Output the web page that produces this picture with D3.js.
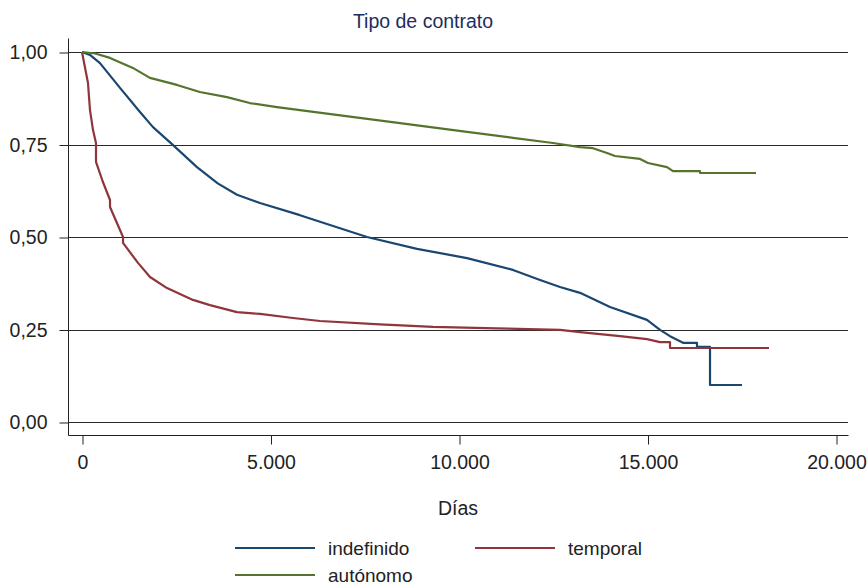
<!DOCTYPE html>
<html>
<head>
<meta charset="utf-8">
<script src="https://cdn.jsdelivr.net/npm/d3@7"></script>
<style>
	body { margin: 0; background: #fff; }
	svg { display: block; font-family: "Liberation Sans", Arial, sans-serif; }
	.axis text { font-size: 19.5px; fill: #222; }
	.axis path, .axis line { stroke: #222; }
</style>
</head>
<body>
<div id="chart"></div>
<script>
// Kaplan-Meier survival estimates: [days, survival]
const indefinido = [
	[0, 1], [212, 0.992], [477, 0.970], [1008, 0.903], [1538, 0.838], [1883, 0.797],
	[2387, 0.751], [3050, 0.689], [3600, 0.645], [4111, 0.614], [4721, 0.592],
	[5782, 0.559], [6313, 0.541], [7560, 0.500], [8886, 0.468], [10212, 0.443],
	[11432, 0.411], [12149, 0.384], [12679, 0.365], [13210, 0.349], [14005, 0.311],
	[14987, 0.276], [15332, 0.249], [15597, 0.232], [15942, 0.214], [16313, 0.214],
	[16313, 0.203], [16658, 0.203], [16658, 0.100], [17507, 0.100]
];
const temporal = [
	[0, 1], [159, 0.916], [212, 0.843], [292, 0.789], [371, 0.754], [371, 0.703],
	[550, 0.650], [743, 0.600], [743, 0.581], [1088, 0.500], [1088, 0.484],
	[1485, 0.430], [1804, 0.392], [2255, 0.362], [2944, 0.330], [3395, 0.316],
	[4111, 0.297], [4721, 0.292], [5597, 0.281], [6313, 0.273], [7900, 0.264],
	[9310, 0.257], [11000, 0.253], [12679, 0.249], [13210, 0.243], [14271, 0.232],
	[14987, 0.224], [15332, 0.216], [15597, 0.216], [15597, 0.200], [18223, 0.200]
];
const autonomo = [
	[0, 1], [350, 0.996], [742, 0.984], [1350, 0.957], [1801, 0.930], [2520, 0.911],
	[3126, 0.892], [3846, 0.878], [4450, 0.862], [5172, 0.851], [5782, 0.843],
	[8435, 0.808], [10212, 0.784], [11432, 0.768], [12493, 0.754], [13210, 0.743],
	[13554, 0.740], [13926, 0.727], [14138, 0.719], [14801, 0.711], [15013, 0.700],
	[15517, 0.689], [15676, 0.678], [16393, 0.678], [16393, 0.673], [17878, 0.673]
];

const seriesNames = ["indefinido", "temporal", "autónomo"];
const seriesData = [indefinido, temporal, autonomo];
const colors = ["#1a476f", "#90353b", "#55752f"];

const xTicks = [0, 5000, 10000, 15000, 20000];
const yTicks = [0, 0.25, 0.5, 0.75, 1];

const width = 868, height = 586;
const frame = { left: 68, right: 848, top: 38, bottom: 435 };

const fmtX = d3.formatLocale({ decimal: ",", thousands: ".", grouping: [3], currency: ["", "€"] }).format(",d");
const fmtY = d => d.toFixed(2).replace(".", ",");

const x = d3.scaleLinear().domain([0, 20000]).range([82, 836]);
const y = d3.scaleLinear().domain([0, 1]).range([422, 52]);

const svg = d3.select("#chart").append("svg")
	.attr("width", width)
	.attr("height", height)
	.attr("viewBox", `0 0 ${width} ${height}`);

// title
svg.append("text")
	.attr("x", 423)
	.attr("y", 28)
	.attr("text-anchor", "middle")
	.style("font-size", "19.5px")
	.style("fill", "#1e2d5e")
	.text("Tipo de contrato");

// gridlines
svg.append("g")
	.attr("class", "grid")
	.selectAll("line")
	.data(yTicks)
	.join("line")
		.attr("x1", frame.left)
		.attr("x2", frame.right)
		.attr("y1", d => Math.round(y(d)) + 0.5)
		.attr("y2", d => Math.round(y(d)) + 0.5)
		.attr("stroke", "#2a2a2a")
		.attr("stroke-width", 1);

// y axis
const yAxis = svg.append("g")
	.attr("class", "axis y")
	.attr("transform", `translate(${frame.left + 0.5}, 0.5)`)
	.call(d3.axisLeft(y).tickValues(yTicks).tickFormat(fmtY).tickSize(9).tickPadding(12).tickSizeOuter(0));
yAxis.select(".domain").attr("d", `M0,${frame.top}V${frame.bottom}`);

// x axis
const xAxis = svg.append("g")
	.attr("class", "axis x")
	.attr("transform", `translate(0.5, ${frame.bottom + 0.5})`)
	.call(d3.axisBottom(x).tickValues(xTicks).tickFormat(fmtX).tickSize(9).tickPadding(11).tickSizeOuter(0));
xAxis.select(".domain").attr("d", `M${frame.left},0H${frame.right}`);

// x axis title
svg.append("text")
	.attr("x", 458)
	.attr("y", 515)
	.attr("text-anchor", "middle")
	.style("font-size", "19.5px")
	.style("fill", "#222")
	.text("Días");

// survival curves
const line = d3.line()
	.x(d => x(d[0]))
	.y(d => y(d[1]));

svg.append("g")
	.attr("class", "chart")
	.selectAll("path")
	.data(seriesData)
	.join("path")
		.attr("d", line)
		.attr("fill", "none")
		.attr("stroke", (d, i) => colors[i])
		.attr("stroke-width", 2.2)
		.attr("stroke-linejoin", "round");

// legend
const legendPos = [[235, 548], [475, 548], [235, 575]];
const legend = svg.append("g")
	.attr("class", "legend")
	.selectAll("g")
	.data(seriesNames)
	.join("g")
		.attr("transform", (d, i) => `translate(${legendPos[i][0]}, ${legendPos[i][1]})`);

legend.append("line")
	.attr("x1", 0)
	.attr("x2", 80)
	.attr("stroke", (d, i) => colors[i])
	.attr("stroke-width", 2.2);

legend.append("text")
	.attr("x", 93)
	.attr("dy", "0.35em")
	.style("font-size", "19px")
	.style("fill", "#222")
	.text(d => d);
</script>
</body>
</html>
